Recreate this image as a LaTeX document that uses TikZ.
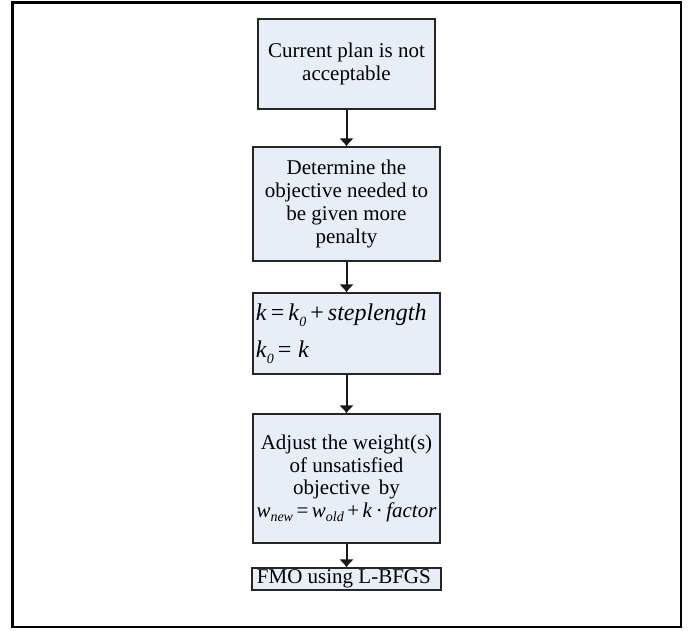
\documentclass[tikz,border=0pt]{standalone}
\usepackage{fontspec}
\setmainfont{Liberation Serif}
\usepackage{tikz}
\usetikzlibrary{arrows.meta,positioning}
\definecolor{boxfill}{RGB}{232,238,247}
\newcommand{\iv}[1]{\textit{#1}}
\newcommand{\lowsub}[2]{\raisebox{#1}{\fontsize{14}{14}\selectfont\itshape #2}}

\begin{document}
\begin{tikzpicture}[x=1pt,y=1pt,
flowbox/.style={rectangle, draw=black!85, fill=boxfill, line width=1.2pt,
align=center, inner sep=0pt, minimum width=187pt},
flowarrow/.style={-{Latex[length=8pt,width=15pt]}, line width=2pt, black!90}]
\tikzstyle{every node}=[font=\fontsize{21}{22.7}\selectfont]

\useasboundingbox (0,0) rectangle (697,-630);
\draw[line width=2.4pt] (12.5,-2.5) rectangle (681,-627);

\node[flowbox, minimum width=177pt, minimum height=90pt] at (346.5,-64) (notok) {
Current plan is not\\
acceptable
};

\node[flowbox, minimum height=114pt] at (346.5,-204) (objective) {
Determine the\\
objective needed to\\
be given more\\
penalty
};

\node[flowbox, minimum height=81pt, align=left,
font=\fontsize{24}{37}\selectfont] at (346.5,-333.5) (step) {
\iv{k}\,=\,\iv{k}\lowsub{-6pt}{0}\,+\,\iv{steplength}\hspace{3pt}\\
\iv{k}\lowsub{-6pt}{0}\,=\;\iv{k}\hspace{128pt}
};

\node[flowbox, minimum height=129pt] at (346.5,-478.5) (weight) {
Adjust the weight(s)\\
of unsatisfied\\
objective\, by\\
\iv{w}\lowsub{-4pt}{new}\,=\,\iv{w}\lowsub{-4pt}{old}\,+\,\iv{k}\,·\,\iv{factor}
};

\node[flowbox, minimum width=189pt, minimum height=22pt,
font=\fontsize{21}{22}\selectfont] at (346.5,-579) (fmo) {
FMO using L-BFGS
};

\draw[flowarrow] (notok.south) -- (objective.north);
\draw[flowarrow] (objective.south) -- (step.north);
\draw[flowarrow] (step.south) -- (weight.north);
\draw[flowarrow] (weight.south) -- (fmo.north);

\end{tikzpicture}
\end{document}
